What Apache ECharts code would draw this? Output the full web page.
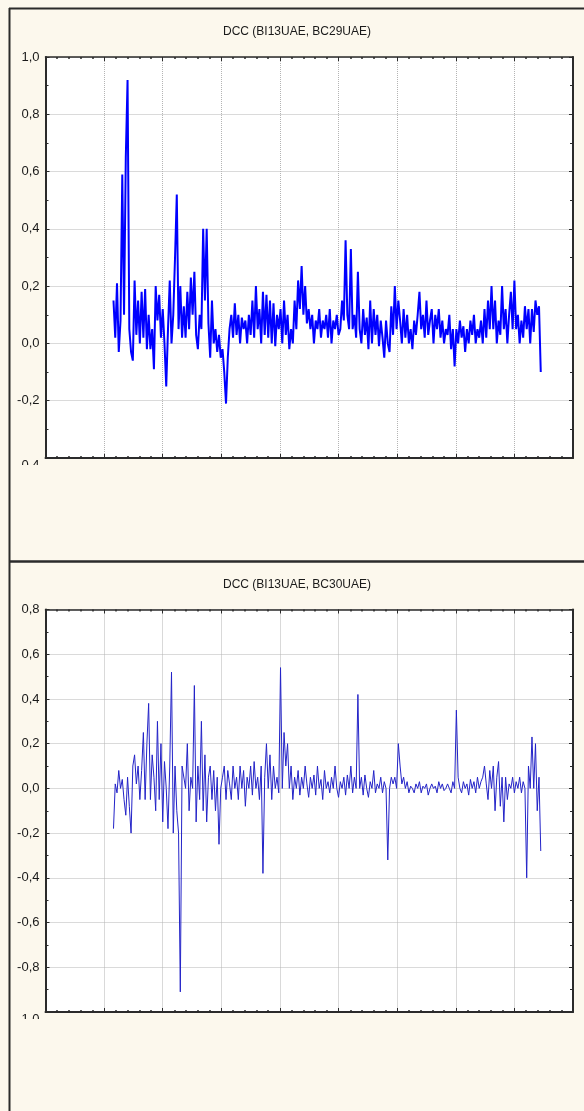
<!DOCTYPE html>
<html>
<head>
<meta charset="utf-8">
<script src="https://cdn.jsdelivr.net/npm/echarts@6/dist/echarts.min.js"></script>
<style>
  html, body { margin: 0; padding: 0; background: #fcf8ed; }
  #chart { width: 584px; height: 1111px; }
</style>
</head>
<body>
<div id="chart"></div>
<script>
// titles of the two panels
const titles = ['DCC (BI13UAE, BC29UAE)', 'DCC (BI13UAE, BC30UAE)']

// x: observation index (no labels on the original), major every 100
const xRange = [0, 900]
const xStep = 100
const startIdx = 116
const idxStep = 3

// y ranges / tick step
const yRange29 = [-0.4, 1.0]
const yRange30 = [-1.0, 0.8]
const yStep = 0.2

// DCC (BI13UAE, BC29UAE)
const dcc29 = [
  0.15, 0.02, 0.21, -0.03, 0.08, 0.59, 0.1, 0.65, 0.92, 0.05,
  -0.03, -0.06, 0.22, 0.03, 0.15, 0.0, 0.18, 0.02, 0.19, -0.02,
  0.1, -0.02, 0.05, -0.09, 0.2, 0.08, 0.17, 0.02, 0.12, 0.0,
  -0.15, 0.05, 0.22, 0.0, 0.1, 0.3, 0.52, 0.05, 0.2, 0.02,
  0.13, 0.02, 0.18, 0.05, 0.23, 0.1, 0.25, 0.03, -0.02, 0.1,
  0.05, 0.4, 0.15, 0.4, 0.07, -0.05, 0.15, 0.0, 0.05, -0.03,
  0.03, -0.05, -0.02, -0.1, -0.21, -0.05, 0.05, 0.1, 0.02, 0.14,
  0.03, 0.1, 0.0, 0.09, 0.05, 0.08, 0.0, 0.1, 0.03, 0.15,
  0.02, 0.2, 0.05, 0.12, 0.0, 0.18, 0.03, 0.17, 0.02, 0.15,
  0.0, 0.14, -0.01, 0.1, 0.05, 0.12, 0.0, 0.15, 0.03, 0.1,
  -0.02, 0.05, 0.0, 0.15, 0.05, 0.22, 0.12, 0.27, 0.1, 0.2,
  0.07, 0.12, 0.05, 0.1, 0.0, 0.08, 0.05, 0.12, 0.02, 0.08,
  0.05, 0.1, 0.02, 0.12, 0.0, 0.08, 0.05, 0.1, 0.03, 0.05,
  0.15, 0.08, 0.36, 0.1, 0.05, 0.33, 0.05, 0.1, 0.02, 0.25,
  0.05, 0.0, 0.12, 0.03, 0.09, -0.02, 0.15, 0.0, 0.12, 0.03,
  0.1, -0.01, 0.08, 0.02, -0.05, 0.08, 0.0, -0.03, 0.13, 0.03,
  0.2, 0.05, 0.15, 0.08, 0.0, 0.12, 0.02, 0.1, 0.0, 0.05,
  -0.02, 0.08, 0.03, 0.1, 0.18, 0.05, 0.1, 0.02, 0.15, 0.03,
  0.08, 0.12, 0.0, 0.1, 0.05, 0.12, 0.02, 0.08, 0.0, 0.05,
  0.03, 0.1, -0.02, 0.05, -0.08, 0.05, 0.0, 0.08, 0.02, 0.06,
  -0.03, 0.05, 0.0, 0.08, 0.03, 0.1, 0.0, 0.05, 0.02, 0.08,
  0.0, 0.12, 0.02, 0.15, 0.05, 0.2, 0.05, 0.15, 0.0, 0.08,
  0.03, 0.2, 0.05, 0.12, 0.0, 0.1, 0.18, 0.05, 0.22, 0.05,
  0.1, 0.0, 0.08, 0.02, 0.13, 0.05, 0.12, 0.0, 0.12, 0.04,
  0.15, 0.1, 0.13, -0.1
]

// DCC (BI13UAE, BC30UAE)
const dcc30 = [
  -0.18, 0.02, -0.02, 0.08, 0.0, 0.04, -0.05, -0.12, 0.05, -0.08,
  -0.2, 0.1, 0.15, 0.02, 0.1, -0.05, 0.08, 0.25, -0.05, 0.2,
  0.38, -0.05, 0.15, 0.05, -0.1, 0.3, -0.05, 0.2, -0.15, 0.12,
  0.0, -0.18, 0.1, 0.52, -0.2, 0.1, -0.1, -0.2, -0.91, 0.1,
  0.1, 0.0, 0.2, -0.1, 0.05, 0.0, 0.46, -0.15, 0.1, -0.05,
  0.3, -0.1, 0.15, -0.15, 0.05, 0.1, -0.05, 0.08, -0.1, 0.05,
  -0.25, 0.0, 0.05, 0.1, -0.05, 0.08, 0.02, -0.05, 0.1, 0.0,
  0.05, -0.05, 0.1, 0.0, 0.08, -0.08, 0.05, 0.0, 0.1, -0.03,
  0.12, 0.0, 0.05, -0.05, 0.1, -0.38, 0.05, 0.2, 0.0, 0.15,
  -0.05, 0.1, 0.0, 0.05, -0.02, 0.54, 0.0, 0.25, 0.1, 0.2,
  0.0, 0.1, -0.05, 0.05, 0.0, 0.08, -0.03, 0.05, 0.0, 0.1,
  0.02, -0.04, 0.05, 0.0, 0.06, -0.03, 0.1, 0.0, 0.04, -0.05,
  0.08, 0.0, 0.03, -0.02, 0.05, 0.0, 0.1, 0.0, -0.04, 0.03,
  0.0, 0.05, -0.03, 0.06, 0.0, 0.1, -0.02, 0.05, 0.0, 0.42,
  0.0, 0.05, -0.03, 0.06, 0.0, -0.04, 0.03, 0.0, 0.08, -0.02,
  0.02, 0.0, 0.05, -0.02, 0.03, 0.0, -0.32, 0.0, 0.05, 0.02,
  0.05, 0.0, 0.2, 0.1, 0.02, 0.05, 0.0, 0.03, -0.02, 0.01,
  0.0, -0.02, 0.02, 0.0, 0.03, -0.02, 0.01, 0.0, 0.02, -0.03,
  0.0, 0.02, 0.0, 0.01, -0.02, 0.03, 0.0, 0.02, -0.01, 0.0,
  0.02, 0.0, -0.02, 0.03, 0.0, 0.35, 0.05, 0.0, -0.02, 0.03,
  0.0, 0.02, -0.03, 0.04, 0.0, 0.03, -0.02, 0.05, 0.0, 0.03,
  0.05, 0.1, 0.02, -0.05, 0.08, 0.0, 0.1, -0.1, 0.05, 0.12,
  -0.08, 0.05, -0.15, 0.05, -0.05, 0.02, 0.0, 0.05, -0.02, 0.03,
  0.0, 0.05, -0.02, 0.03, 0.0, -0.4, 0.1, 0.0, 0.23, 0.0,
  0.2, -0.1, 0.05, -0.28
]

const cream = '#fcf8ed'
const ink = '#2b2b2b'
const font = 'Liberation Sans, Arial, sans-serif'
const gridLine = { type: [1, 1], color: '#b4b4b4', width: 1 }

// tick labels with decimal comma, lowest one pushed down (it gets cut like in Statistica)
function yLabel(min) {
  return {
    show: true,
    margin: 6,
    color: '#1a1a1a',
    fontSize: 13,
    fontFamily: font,
    formatter: function (v) {
      const s = v.toFixed(1).replace('.', ',')
      return Math.abs(v - min) < 1e-9 ? '{low|' + s + '}' : s
    },
    rich: { low: { fontSize: 13, fontFamily: font, color: '#1a1a1a', padding: [14, 0, 0, 0] } }
  }
}

function xAxisOf(gi, pos) {
  return {
    type: 'value',
    gridIndex: gi,
    position: pos,
    min: xRange[0],
    max: xRange[1],
    interval: xStep,
    axisLine: { show: true, onZero: false, lineStyle: { color: ink, width: pos === 'bottom' ? 2 : 1.5 } },
    axisTick: { show: true, inside: true, length: 4, lineStyle: { color: ink, width: 1 } },
    minorTick: { show: true, splitNumber: 5, length: 2, lineStyle: { color: ink, width: 1.5 } },
    axisLabel: { show: false },
    splitLine: { show: pos === 'bottom', lineStyle: gridLine }
  }
}

function yAxisOf(gi, pos, range) {
  return {
    type: 'value',
    gridIndex: gi,
    position: pos,
    min: range[0],
    max: range[1],
    interval: yStep,
    axisLine: { show: true, onZero: false, lineStyle: { color: ink, width: 2 } },
    axisTick: { show: true, inside: true, length: 4, lineStyle: { color: ink, width: 1 } },
    minorTick: { show: true, splitNumber: 2, length: 3, lineStyle: { color: ink, width: 1 } },
    axisLabel: pos === 'left' ? yLabel(range[0]) : { show: false },
    splitLine: { show: pos === 'left', lineStyle: gridLine }
  }
}

function toPairs(arr) {
  return arr.map(function (v, i) { return [startIdx + i * idxStep, v] })
}

const option = {
  backgroundColor: cream,
  animation: false,
  title: [
    { text: titles[0], left: 297, top: 26, padding: 0, textAlign: 'center',
      textStyle: { fontSize: 12, fontWeight: 'normal', color: '#1a1a1a', fontFamily: font } },
    { text: titles[1], left: 297, top: 579, padding: 0, textAlign: 'center',
      textStyle: { fontSize: 12, fontWeight: 'normal', color: '#1a1a1a', fontFamily: font } }
  ],
  grid: [
    { left: 45.5, top: 57, width: 527.5, height: 401, show: true, backgroundColor: '#fff', borderWidth: 0 },
    { left: 45.5, top: 609.5, width: 527.5, height: 402.5, show: true, backgroundColor: '#fff', borderWidth: 0 }
  ],
  xAxis: [xAxisOf(0, 'bottom'), xAxisOf(0, 'top'), xAxisOf(1, 'bottom'), xAxisOf(1, 'top')],
  yAxis: [
    yAxisOf(0, 'left', yRange29), yAxisOf(0, 'right', yRange29),
    yAxisOf(1, 'left', yRange30), yAxisOf(1, 'right', yRange30)
  ],
  series: [
    {
      name: titles[0],
      type: 'line',
      xAxisIndex: 0,
      yAxisIndex: 0,
      symbol: 'none',
      lineStyle: { color: '#0000ff', width: 2 },
      data: toPairs(dcc29)
    },
    {
      name: titles[1],
      type: 'line',
      xAxisIndex: 2,
      yAxisIndex: 2,
      symbol: 'none',
      lineStyle: { color: '#2323c8', width: 1 },
      data: toPairs(dcc30)
    }
  ],
  // window frame of the two Statistica panels + masks cutting the lowest tick labels
  graphic: [
    { type: 'rect', z: 100, shape: { x: 10, y: 465, width: 34, height: 14 }, style: { fill: cream } },
    { type: 'rect', z: 100, shape: { x: 10, y: 1019, width: 34, height: 14 }, style: { fill: cream } },
    { type: 'line', z: 101, shape: { x1: 9.5, y1: 8, x2: 9.5, y2: 1111 }, style: { stroke: ink, lineWidth: 2 } },
    { type: 'line', z: 101, shape: { x1: 9, y1: 8.5, x2: 584, y2: 8.5 }, style: { stroke: ink, lineWidth: 2 } },
    { type: 'line', z: 101, shape: { x1: 9, y1: 561.5, x2: 584, y2: 561.5 }, style: { stroke: ink, lineWidth: 2.5 } }
  ]
}

const chart = echarts.init(document.getElementById('chart'))
chart.setOption(option)
window.addEventListener('resize', function () { chart.resize() })
</script>
</body>
</html>
